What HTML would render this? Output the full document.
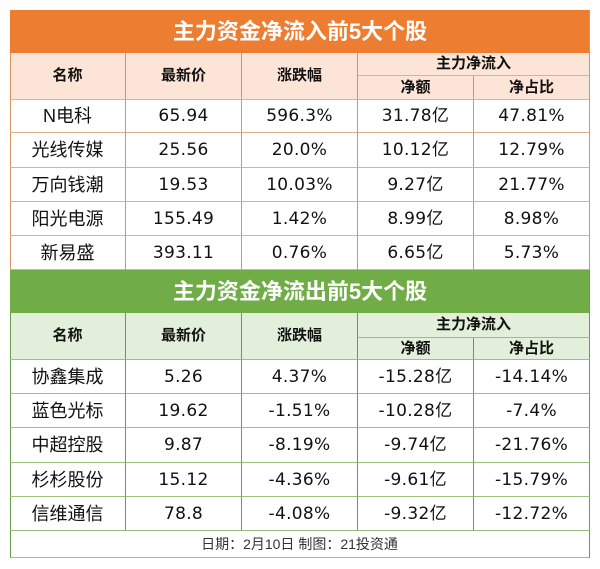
<!DOCTYPE html>
<html><head><meta charset="utf-8">
<style>
html,body{margin:0;padding:0;background:#fff;}
body{width:600px;height:569px;position:relative;overflow:hidden;font-family:"DejaVu Sans","Noto Sans CJK SC",sans-serif;color:#111;}
.c{position:absolute;display:flex;align-items:center;justify-content:center;box-sizing:border-box;white-space:nowrap;line-height:20px;}
.t{color:#fff;font-family:"Liberation Sans","Noto Sans CJK SC",sans-serif;font-weight:bold;font-size:22px;line-height:26px;}
.h{font-family:"Liberation Sans","Noto Sans CJK SC",sans-serif;font-weight:bold;font-size:15px;line-height:18px;}
.d{font-size:17px;letter-spacing:0.3px;}
.d span{display:inline-block;line-height:20px;vertical-align:top;}
.n{font-family:"Liberation Sans","Noto Sans CJK SC",sans-serif;font-size:18px;}
.o{border-right:1px solid #D9935F;border-bottom:1px solid #E6AE86;}
.g{border-right:1px solid #6E9A4C;border-bottom:1px solid #9CC07E;}
.vl{position:absolute;width:1px;}
</style></head><body>

<!-- ===== Top (orange) ===== -->
<div class="c t" style="left:10px;top:10px;width:580px;height:43px;background:#ED7D31;">主力资金净流入前5大个股</div>
<div style="position:absolute;left:10px;top:53px;width:580px;height:47px;background:#FCE4D6;"></div>
<div class="vl" style="left:10px;top:53px;height:217px;background:#D9935F;"></div>
<div class="vl" style="left:589px;top:10px;height:260px;background:#D9935F;"></div>

<div class="c h o" style="left:10px;top:53px;width:116px;height:47px;">名称</div>
<div class="c h o" style="left:126px;top:53px;width:116px;height:47px;">最新价</div>
<div class="c h o" style="left:242px;top:53px;width:116px;height:47px;">涨跌幅</div>
<div class="c h o" style="left:358px;top:53px;width:232px;height:23px;">主力净流入</div>
<div class="c h o" style="left:358px;top:76px;width:116px;height:24px;">净额</div>
<div class="c h o" style="left:474px;top:76px;width:116px;height:24px;">净占比</div>

<!-- row 1 -->
<div class="c n o" style="left:10px;top:100px;width:116px;height:33px;">N电科</div>
<div class="c d o" style="left:126px;top:100px;width:116px;height:33px;">65.94</div>
<div class="c d o" style="left:242px;top:100px;width:116px;height:33px;">596.3%</div>
<div class="c d o" style="left:358px;top:100px;width:116px;height:33px;"><span>31.78</span><span>亿</span></div>
<div class="c d o" style="left:474px;top:100px;width:116px;height:33px;">47.81%</div>
<!-- row 2 -->
<div class="c n o" style="left:10px;top:133px;width:116px;height:35px;">光线传媒</div>
<div class="c d o" style="left:126px;top:133px;width:116px;height:35px;">25.56</div>
<div class="c d o" style="left:242px;top:133px;width:116px;height:35px;">20.0%</div>
<div class="c d o" style="left:358px;top:133px;width:116px;height:35px;"><span>10.12</span><span>亿</span></div>
<div class="c d o" style="left:474px;top:133px;width:116px;height:35px;">12.79%</div>
<!-- row 3 -->
<div class="c n o" style="left:10px;top:168px;width:116px;height:34px;">万向钱潮</div>
<div class="c d o" style="left:126px;top:168px;width:116px;height:34px;">19.53</div>
<div class="c d o" style="left:242px;top:168px;width:116px;height:34px;">10.03%</div>
<div class="c d o" style="left:358px;top:168px;width:116px;height:34px;"><span>9.27</span><span>亿</span></div>
<div class="c d o" style="left:474px;top:168px;width:116px;height:34px;">21.77%</div>
<!-- row 4 -->
<div class="c n o" style="left:10px;top:202px;width:116px;height:34px;">阳光电源</div>
<div class="c d o" style="left:126px;top:202px;width:116px;height:34px;">155.49</div>
<div class="c d o" style="left:242px;top:202px;width:116px;height:34px;">1.42%</div>
<div class="c d o" style="left:358px;top:202px;width:116px;height:34px;"><span>8.99</span><span>亿</span></div>
<div class="c d o" style="left:474px;top:202px;width:116px;height:34px;">8.98%</div>
<!-- row 5 -->
<div class="c n o" style="left:10px;top:236px;width:116px;height:34px;">新易盛</div>
<div class="c d o" style="left:126px;top:236px;width:116px;height:34px;">393.11</div>
<div class="c d o" style="left:242px;top:236px;width:116px;height:34px;">0.76%</div>
<div class="c d o" style="left:358px;top:236px;width:116px;height:34px;"><span>6.65</span><span>亿</span></div>
<div class="c d o" style="left:474px;top:236px;width:116px;height:34px;">5.73%</div>

<!-- ===== Bottom (green) ===== -->
<div class="c t" style="left:10px;top:270px;width:580px;height:43px;background:#70AD47;">主力资金净流出前5大个股</div>
<div style="position:absolute;left:10px;top:313px;width:580px;height:47px;background:#E2EFDA;"></div>
<div class="vl" style="left:10px;top:313px;height:245px;background:#6E9A4C;"></div>
<div class="vl" style="left:589px;top:270px;height:288px;background:#6E9A4C;"></div>

<div class="c h g" style="left:10px;top:313px;width:116px;height:47px;">名称</div>
<div class="c h g" style="left:126px;top:313px;width:116px;height:47px;">最新价</div>
<div class="c h g" style="left:242px;top:313px;width:116px;height:47px;">涨跌幅</div>
<div class="c h g" style="left:358px;top:313px;width:232px;height:25px;">主力净流入</div>
<div class="c h g" style="left:358px;top:338px;width:116px;height:22px;">净额</div>
<div class="c h g" style="left:474px;top:338px;width:116px;height:22px;">净占比</div>

<!-- row 1 -->
<div class="c n g" style="left:10px;top:360px;width:116px;height:34px;">协鑫集成</div>
<div class="c d g" style="left:126px;top:360px;width:116px;height:34px;">5.26</div>
<div class="c d g" style="left:242px;top:360px;width:116px;height:34px;">4.37%</div>
<div class="c d g" style="left:358px;top:360px;width:116px;height:34px;"><span>-15.28</span><span>亿</span></div>
<div class="c d g" style="left:474px;top:360px;width:116px;height:34px;">-14.14%</div>
<!-- row 2 -->
<div class="c n g" style="left:10px;top:394px;width:116px;height:34px;">蓝色光标</div>
<div class="c d g" style="left:126px;top:394px;width:116px;height:34px;">19.62</div>
<div class="c d g" style="left:242px;top:394px;width:116px;height:34px;">-1.51%</div>
<div class="c d g" style="left:358px;top:394px;width:116px;height:34px;"><span>-10.28</span><span>亿</span></div>
<div class="c d g" style="left:474px;top:394px;width:116px;height:34px;">-7.4%</div>
<!-- row 3 -->
<div class="c n g" style="left:10px;top:428px;width:116px;height:35px;">中超控股</div>
<div class="c d g" style="left:126px;top:428px;width:116px;height:35px;">9.87</div>
<div class="c d g" style="left:242px;top:428px;width:116px;height:35px;">-8.19%</div>
<div class="c d g" style="left:358px;top:428px;width:116px;height:35px;"><span>-9.74</span><span>亿</span></div>
<div class="c d g" style="left:474px;top:428px;width:116px;height:35px;">-21.76%</div>
<!-- row 4 -->
<div class="c n g" style="left:10px;top:463px;width:116px;height:34px;">杉杉股份</div>
<div class="c d g" style="left:126px;top:463px;width:116px;height:34px;">15.12</div>
<div class="c d g" style="left:242px;top:463px;width:116px;height:34px;">-4.36%</div>
<div class="c d g" style="left:358px;top:463px;width:116px;height:34px;"><span>-9.61</span><span>亿</span></div>
<div class="c d g" style="left:474px;top:463px;width:116px;height:34px;">-15.79%</div>
<!-- row 5 -->
<div class="c n g" style="left:10px;top:497px;width:116px;height:34px;">信维通信</div>
<div class="c d g" style="left:126px;top:497px;width:116px;height:34px;">78.8</div>
<div class="c d g" style="left:242px;top:497px;width:116px;height:34px;">-4.08%</div>
<div class="c d g" style="left:358px;top:497px;width:116px;height:34px;"><span>-9.32</span><span>亿</span></div>
<div class="c d g" style="left:474px;top:497px;width:116px;height:34px;">-12.72%</div>

<!-- footer -->
<div class="c g" style="left:10px;top:531px;width:580px;height:27px;font-family:'Liberation Sans','Noto Sans CJK SC',sans-serif;font-size:14px;color:#333;">日期：2月10日 制图：21投资通</div>

</body></html>
